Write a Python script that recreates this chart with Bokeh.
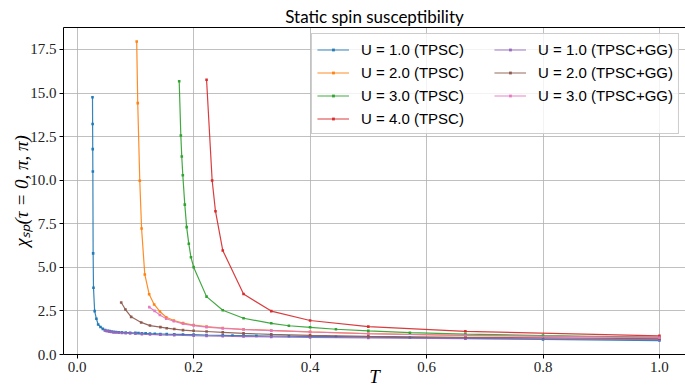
from bokeh.plotting import figure
from bokeh.models import (Range1d, FixedTicker, NumeralTickFormatter, Legend,
                          LegendItem, LinearAxis)
from bokeh.embed import file_html
from bokeh.resources import INLINE

# ---- data ----
T_u1 = [0.0263, 0.0265, 0.0267, 0.0269, 0.0274, 0.0280, 0.0300, 0.0330, 0.0360,
        0.0400, 0.0440, 0.0480, 0.0526, 0.0556, 0.0588, 0.0625, 0.0667, 0.0714,
        0.0769, 0.0833, 0.0909, 0.1000, 0.1053, 0.1111, 0.1176, 0.1250, 0.1333,
        0.1429, 0.1538, 0.1667, 0.1818, 0.2000, 0.2222, 0.2500, 0.2667, 0.2857,
        0.3077, 0.3333, 0.3636, 0.4000, 0.4444, 0.5000, 0.5714, 0.6667, 0.8000, 1.0000]
chi_u1 = [14.76, 13.22, 11.78, 10.50, 5.80, 3.83, 2.49, 2.05, 1.72,
          1.58, 1.47, 1.40, 1.36, 1.34, 1.32, 1.30, 1.29, 1.28,
          1.27, 1.26, 1.25, 1.24, 1.23, 1.22, 1.21, 1.20, 1.19,
          1.18, 1.17, 1.16, 1.15, 1.14, 1.12, 1.10, 1.09, 1.08,
          1.07, 1.06, 1.05, 1.03, 1.02, 1.00, 0.97, 0.93, 0.87, 0.80]

T_u2 = [0.1022, 0.1040, 0.1075, 0.1106, 0.1161, 0.1236, 0.1322, 0.1420, 0.1529,
        0.1660, 0.1818, 0.2000, 0.2222, 0.2500, 0.2857, 0.3333, 0.4000, 0.5000,
        0.6667, 1.0000]
chi_u2 = [17.96, 14.42, 9.97, 7.23, 4.59, 3.46, 2.87, 2.47, 2.14,
          1.95, 1.80, 1.69, 1.60, 1.52, 1.45, 1.38, 1.30, 1.20,
          1.10, 0.99]

T_u3 = [0.1752, 0.1780, 0.1796, 0.1814, 0.1848, 0.1880, 0.1917, 0.1954, 0.2000,
        0.2222, 0.2500, 0.2857, 0.3333, 0.3636, 0.4000, 0.4444, 0.5000, 0.5714,
        0.6667, 0.8000, 1.0000]
chi_u3 = [15.68, 12.56, 11.36, 10.28, 8.60, 7.31, 6.35, 5.58, 5.01,
          3.32, 2.54, 2.08, 1.79, 1.65, 1.56, 1.45, 1.36, 1.25,
          1.17, 1.09, 0.99]

T_u4 = [0.2222, 0.2318, 0.2375, 0.2500, 0.2857, 0.3333, 0.4000, 0.5000, 0.6667, 1.0000]
chi_u4 = [15.76, 9.98, 8.22, 5.97, 3.47, 2.49, 1.95, 1.60, 1.33, 1.07]

T_u1gg = [0.0476, 0.0500, 0.0526, 0.0556, 0.0588, 0.0625, 0.0667, 0.0714, 0.0769,
          0.0833, 0.0909, 0.1000, 0.1111, 0.1250, 0.1429, 0.1667, 0.2000, 0.2222,
          0.2500, 0.2857, 0.3333, 0.4000, 0.5000, 0.6667, 1.0000]
chi_u1gg = [1.38, 1.35, 1.33, 1.31, 1.29, 1.27, 1.26, 1.25, 1.24,
            1.22, 1.21, 1.19, 1.17, 1.15, 1.13, 1.11, 1.08, 1.07,
            1.05, 1.03, 1.01, 0.98, 0.95, 0.91, 0.85]

T_u2gg = [0.0756, 0.0829, 0.0927, 0.1099, 0.1250, 0.1429, 0.1538, 0.1667, 0.1818,
          0.2000, 0.2222, 0.2500, 0.2857, 0.3333, 0.4000, 0.5000, 0.6667, 1.0000]
chi_u2gg = [2.98, 2.58, 2.16, 1.84, 1.66, 1.57, 1.51, 1.46, 1.40,
            1.36, 1.32, 1.27, 1.21, 1.16, 1.10, 1.04, 0.98, 0.91]

T_u3gg = [0.1238, 0.1329, 0.1420, 0.1529, 0.1660, 0.1818, 0.2000, 0.2222, 0.2500,
          0.2857, 0.3333, 0.4000, 0.5000, 0.6667, 1.0000]
chi_u3gg = [2.72, 2.50, 2.27, 2.05, 1.91, 1.76, 1.66, 1.57, 1.50,
            1.43, 1.37, 1.29, 1.19, 1.09, 0.97]

labels = ["U = 1.0 (TPSC)", "U = 2.0 (TPSC)", "U = 3.0 (TPSC)", "U = 4.0 (TPSC)",
          "U = 1.0 (TPSC+GG)", "U = 2.0 (TPSC+GG)", "U = 3.0 (TPSC+GG)"]
colors = ["#1f77b4", "#ff7f0e", "#2ca02c", "#d62728", "#9467bd", "#8c564b", "#e377c2"]
series = [(T_u1, chi_u1), (T_u2, chi_u2), (T_u3, chi_u3), (T_u4, chi_u4),
          (T_u1gg, chi_u1gg), (T_u2gg, chi_u2gg), (T_u3gg, chi_u3gg)]

x_ticks = [0.0, 0.2, 0.4, 0.6, 0.8, 1.0]
y_ticks = [0.0, 2.5, 5.0, 7.5, 10.0, 12.5, 15.0, 17.5]

p = figure(width=685, height=389, output_backend="svg", toolbar_location=None,
           x_range=Range1d(-0.0235, 1.0447), y_range=Range1d(0, 18.76),
           min_border_left=63, min_border_right=0, min_border_top=27,
           min_border_bottom=0)
p.outline_line_color = None
p.background_fill_color = "white"
p.border_fill_color = "white"

p.title.text = "Static spin susceptibility"
p.title.align = "center"
p.title.text_font = "Lato"
p.title.text_font_style = "normal"
p.title.text_font_size = "17px"
p.title.text_color = "black"
p.title.standoff = 2

tick_font = "Liberation Serif"
for ax in (p.xaxis[0], p.yaxis[0]):
    ax.axis_line_color = "black"
    ax.axis_line_width = 1
    ax.major_tick_line_color = "black"
    ax.major_tick_out = 4
    ax.major_tick_in = 0
    ax.minor_tick_line_color = None
    ax.major_label_text_font = tick_font
    ax.major_label_text_font_size = "15px"
    ax.major_label_text_color = "#222222"
    ax.major_label_standoff = 3
    ax.formatter = NumeralTickFormatter(format="0.0")
    ax.axis_label_text_font = tick_font
    ax.axis_label_text_font_style = "italic"
    ax.axis_label_text_font_size = "19px"
    ax.axis_label_text_color = "black"

p.xaxis.ticker = FixedTicker(ticks=x_ticks)
p.yaxis.ticker = FixedTicker(ticks=y_ticks)
p.xaxis.axis_label = "T"
p.xaxis.axis_label_standoff = -9
p.yaxis.axis_label = "χₛₚ(τ = 0, π, π)"
p.yaxis.axis_label_standoff = -5

top_axis = LinearAxis(ticker=FixedTicker(ticks=[]), axis_line_color="black",
                      major_tick_line_color=None, minor_tick_line_color=None,
                      major_label_text_font_size="0px")
p.add_layout(top_axis, "above")

p.xgrid.grid_line_color = "#b0b0b0"
p.ygrid.grid_line_color = "#b0b0b0"
p.xgrid.grid_line_alpha = 0.8
p.ygrid.grid_line_alpha = 0.8
p.xgrid.grid_line_width = 1
p.ygrid.grid_line_width = 1

items = []
for (t, c), col, lab in zip(series, colors, labels):
    lr = p.line(t, c, line_color=col, line_width=1.2, line_alpha=0.9)
    sr = p.scatter(t, c, size=2.6, marker="square", fill_color=col,
                   line_color=None, alpha=0.95)
    items.append(LegendItem(label=lab, renderers=[lr, sr]))

legend = Legend(items=items, location="top_right", ncols=2,
                label_text_font="Liberation Sans", label_text_font_size="15px",
                label_text_color="black",
                glyph_width=32, glyph_height=7, label_height=20,
                label_width=130, label_standoff=12, spacing=3, padding=5,
                margin=6, border_line_color="#cccccc", border_line_alpha=1,
                background_fill_alpha=0.8)
p.add_layout(legend)

open("out.html", "w").write(file_html(p, INLINE))
